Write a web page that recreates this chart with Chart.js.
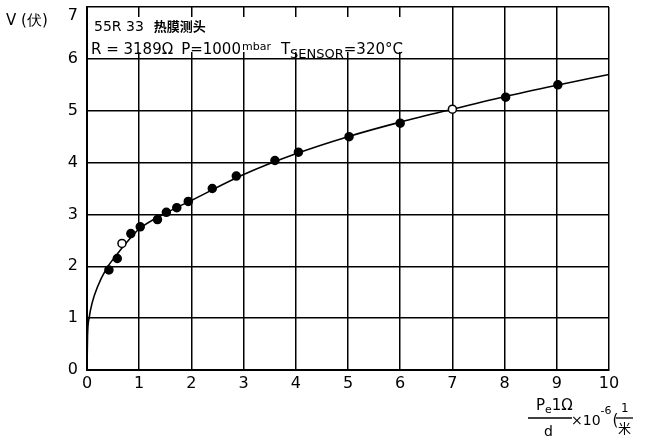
<!DOCTYPE html>
<html>
<head>
<meta charset="utf-8">
<script src="https://cdn.jsdelivr.net/npm/chart.js@4.4.1/dist/chart.umd.min.js"></script>
<style>
  body { margin: 0; background: #fff; }
  #wrap { width: 647px; height: 440px; position: relative; }
</style>
</head>
<body>
<div id="wrap"><canvas id="myChart" width="647" height="440"></canvas></div>
<script>
// measured points (x = Pe·Ω/d ×10^-6, y = V)
var pointX = [0.42, 0.58, 0.67, 0.84, 1.02, 1.35, 1.52, 1.72, 1.94, 2.4, 2.86, 3.6, 4.05, 5.02, 6.0, 7.0, 8.02, 9.02];
var pointY = [1.93, 2.15, 2.44, 2.63, 2.76, 2.9, 3.04, 3.13, 3.25, 3.5, 3.74, 4.04, 4.2, 4.5, 4.76, 5.03, 5.26, 5.5];
// which points are drawn hollow
var pointOpen = [false, false, true, false, false, false, false, false, false, false, false, false, false, false, false, true, false, false];

// fitted curve
var curveX = [0, 0.01, 0.04, 0.1, 0.2, 0.37, 0.55, 0.75, 1, 1.5, 2, 3, 4, 5, 6, 7, 8, 9, 10];
var curveY = [0, 0.65, 1.0, 1.3, 1.6, 1.95, 2.2, 2.45, 2.72, 3.02, 3.27, 3.77, 4.17, 4.5, 4.78, 5.03, 5.27, 5.49, 5.7];

var xTicks = [0, 1, 2, 3, 4, 5, 6, 7, 8, 9, 10];
var yTicks = [0, 1, 2, 3, 4, 5, 6, 7];

var FONT = "'DejaVu Sans', sans-serif";
var CJK = "'Noto Sans CJK SC', sans-serif";

// draw pieces of text one after another: [text, font, dy, gapAfter]
function textRun(c, x, y, parts) {
  parts.forEach(function (p) {
    c.font = p[1];
    c.fillText(p[0], x, y + (p[2] || 0));
    x += c.measureText(p[0]).width + (p[3] || 0);
  });
}

var labelsPlugin = {
  id: "labels",
  afterDraw: function (chart) {
    var c = chart.ctx;
    var a = chart.chartArea;
    var yScale = chart.scales.y;
    c.save();

    // white box behind the legend text
    c.fillStyle = "#fff";
    c.fillRect(a.left + 2, 17, 352, 35);

    c.fillStyle = "#000";
    c.strokeStyle = "#000";
    c.textBaseline = "alphabetic";
    c.textAlign = "left";

    // top tick label sits below its line in the original
    c.font = "16px " + FONT;
    c.textAlign = "right";
    c.fillText(String(yTicks[yTicks.length - 1]), a.left - 9, yScale.getPixelForValue(7) + 13);
    c.textAlign = "left";

    // y axis title
    c.font = "15px " + FONT;
    c.fillText("V (伏)", 6, 25);

    // box text
    textRun(c, 94, 31, [
      ["55R 33", "14px " + FONT, 0, 10],
      ["热膜测头", "bold 13px " + CJK, 0, 0],
    ]);
    textRun(c, 91, 54, [
      ["R = 3189Ω", "15px " + FONT, 0, 8],
      ["P=1000", "15px " + FONT, 0, 1],
      ["mbar", "11px " + FONT, -4, 10],
      ["T", "15px " + FONT, 0, 0],
      ["SENSOR", "13px " + FONT, 4, 0],
      ["=320°C", "15px " + FONT, 0, 0],
    ]);

    // x axis title (fraction)
    c.lineWidth = 1.3;
    textRun(c, 536, 410, [
      ["P", "15px " + FONT, 0, 0],
      ["e", "11px " + FONT, 3, 0],
      ["1Ω", "15px " + FONT, 0, 0],
    ]);
    c.beginPath();
    c.moveTo(528, 418);
    c.lineTo(572, 418);
    c.stroke();
    c.font = "14px " + FONT;
    c.fillText("d", 544, 436);
    textRun(c, 571, 425, [
      ["×10", "14px " + FONT, 0, 0],
      ["-6", "11px " + FONT, -11, 1],
      ["(", "15px " + FONT, 0, 0],
    ]);
    c.font = "12px " + FONT;
    c.fillText("1", 621, 412);
    c.beginPath();
    c.moveTo(616, 418);
    c.lineTo(633, 418);
    c.stroke();
    c.font = "13px " + CJK;
    c.fillText("米", 618, 433);
    c.restore();
  },
};

var ctx = document.getElementById("myChart").getContext("2d");
var myChart = new Chart(ctx, {
  type: "scatter",
  data: {
    datasets: [
      {
        label: "points",
        data: pointX.map(function (x, i) {
          return { x: x, y: pointY[i] };
        }),
        showLine: false,
        pointRadius: 4,
        pointBorderWidth: 1.5,
        pointBorderColor: "#000",
        pointBackgroundColor: pointOpen.map(function (o) {
          return o ? "#fff" : "#000";
        }),
        order: 0,
      },
      {
        label: "curve",
        data: curveX.map(function (x, i) {
          return { x: x, y: curveY[i] };
        }),
        showLine: true,
        pointRadius: 0,
        borderColor: "#000",
        borderWidth: 1.6,
        cubicInterpolationMode: "monotone",
        order: 1,
      },
    ],
  },
  options: {
    responsive: false,
    animation: false,
    layout: { padding: { left: 0, top: 7, right: 38, bottom: 0 } },
    plugins: {
      legend: { display: false },
      tooltip: { enabled: false },
    },
    scales: {
      x: {
        type: "linear",
        min: 0,
        max: 10,
        afterBuildTicks: function (axis) {
          axis.ticks = xTicks.map(function (v) {
            return { value: v };
          });
        },
        afterFit: function (axis) {
          axis.height = 70;
          axis.paddingRight = 0;
        },
        grid: { color: "#000", lineWidth: 1.5, drawTicks: false },
        border: { color: "#000", width: 2 },
        ticks: {
          color: "#000",
          padding: 4,
          font: { family: "'DejaVu Sans', sans-serif", size: 16 },
          maxRotation: 0,
        },
      },
      y: {
        type: "linear",
        min: 0,
        max: 7,
        afterBuildTicks: function (axis) {
          axis.ticks = yTicks.map(function (v) {
            return { value: v };
          });
        },
        afterFit: function (axis) {
          axis.width = 87;
          axis.paddingTop = 0;
          axis.paddingBottom = 0;
        },
        grid: { color: "#000", lineWidth: 1.5, drawTicks: false },
        border: { color: "#000", width: 2 },
        ticks: {
          color: "#000",
          padding: 9,
          font: { family: "'DejaVu Sans', sans-serif", size: 16 },
          // the top label is drawn by the plugin a bit lower
          callback: function (value) {
            return value === 7 ? "" : value;
          },
        },
      },
    },
  },
  plugins: [labelsPlugin],
});
</script>
</body>
</html>
